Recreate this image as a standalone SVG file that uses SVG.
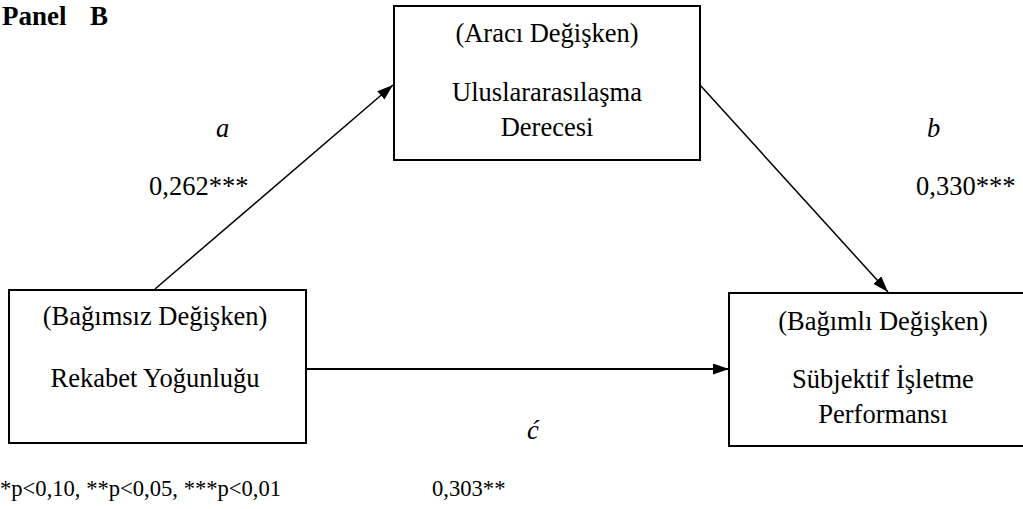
<svg xmlns="http://www.w3.org/2000/svg" width="1023" height="509" viewBox="0 0 1023 509">
  <style>
    .box { fill: #ffffff; stroke: #000000; stroke-width: 2; }
    .lbl { font-family: "Liberation Serif", "Times New Roman", serif; font-size: 26.5px; fill: #000000; }
    .mid { text-anchor: middle; }
    .it { font-style: italic; }
    .note { font-family: "Liberation Serif", "Times New Roman", serif; font-size: 22.6px; fill: #000000; }
    .title { font-family: "Liberation Serif", "Times New Roman", serif; font-size: 27px; font-weight: bold; fill: #000000; }
    .edge { stroke: #000000; fill: none; }
  </style>
  <defs>
    <marker id="arrow" markerUnits="userSpaceOnUse" markerWidth="17" markerHeight="12" refX="16" refY="5.5" orient="auto">
      <path d="M0,0 L16,5.5 L0,11 Z" fill="#000000"/>
    </marker>
  </defs>
  <rect x="0" y="0" width="1023" height="509" fill="#ffffff"/>

  <!-- heading -->
  <text class="title" x="2" y="25">Panel</text>
  <text class="title" x="90" y="25">B</text>

  <!-- connectors -->
  <g id="connectors">
    <line class="edge" x1="155" y1="289" x2="393" y2="85" stroke-width="1.5" marker-end="url(#arrow)"/>
    <line class="edge" x1="700" y1="85" x2="888" y2="292" stroke-width="1.5" marker-end="url(#arrow)"/>
    <line class="edge" x1="306" y1="369" x2="729" y2="369" stroke-width="2" marker-end="url(#arrow)"/>
  </g>

  <!-- mediator -->
  <g id="node-mediator">
    <rect class="box" x="394" y="6" width="306" height="154"/>
    <text class="lbl mid" x="547" y="42">(Aracı Değişken)</text>
    <text class="lbl mid" x="547" y="101">Uluslararasılaşma</text>
    <text class="lbl mid" x="547" y="136">Derecesi</text>
  </g>

  <!-- independent variable -->
  <g id="node-independent">
    <rect class="box" x="9" y="290" width="297" height="153"/>
    <text class="lbl mid" x="155" y="325">(Bağımsız Değişken)</text>
    <text class="lbl mid" x="155" y="387">Rekabet Yoğunluğu</text>
  </g>

  <!-- dependent variable -->
  <g id="node-dependent">
    <rect class="box" x="729" y="293" width="308" height="153"/>
    <text class="lbl mid" x="883" y="330">(Bağımlı Değişken)</text>
    <text class="lbl mid" x="883" y="388">Sübjektif İşletme</text>
    <text class="lbl mid" x="883" y="423">Performansı</text>
  </g>

  <!-- path labels -->
  <g id="path-labels">
    <text class="lbl it" x="216" y="137">a</text>
    <text class="lbl" x="149" y="195">0,262***</text>
    <text class="lbl it" x="927" y="137">b</text>
    <text class="lbl" x="916" y="195">0,330***</text>
    <text class="lbl it" x="527" y="439">ć</text>
    <text class="note" x="432" y="496">0,303**</text>
  </g>

  <!-- significance note -->
  <text class="note" x="0" y="496">*p&lt;0,10, **p&lt;0,05, ***p&lt;0,01</text>
</svg>
